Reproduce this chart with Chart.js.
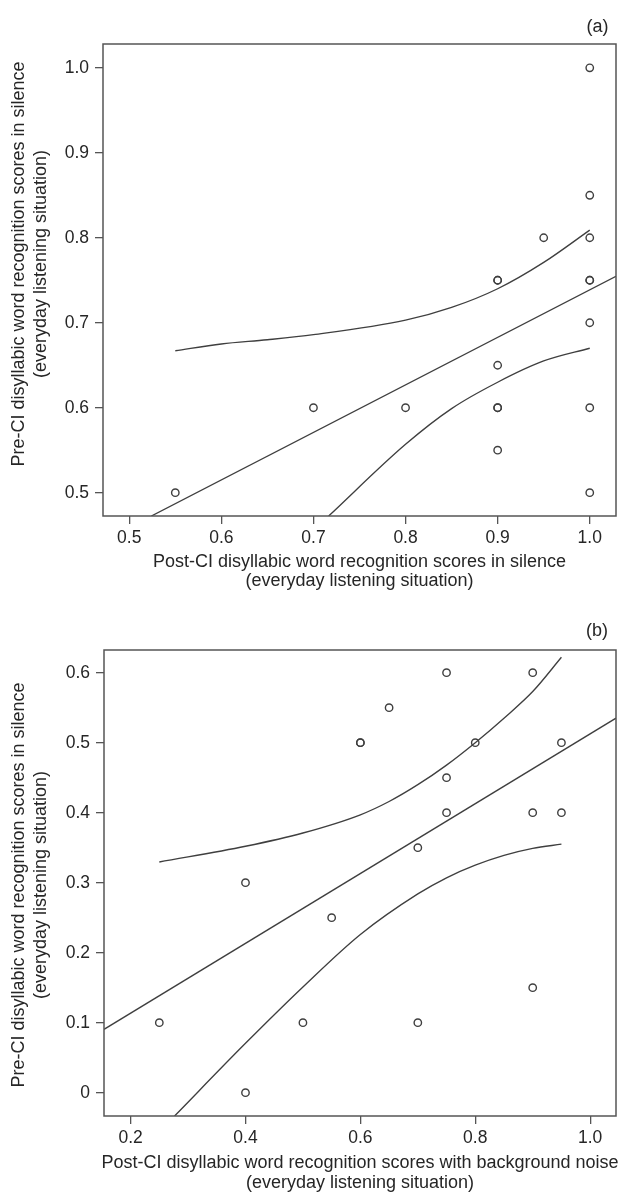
<!DOCTYPE html>
<html>
<head>
<meta charset="utf-8">
<script src="https://cdn.jsdelivr.net/npm/chart.js@4.4.1/dist/chart.umd.min.js"></script>
<style>
  html, body { margin: 0; padding: 0; background: #fff; }
  #wrap { position: relative; width: 623px; height: 1193px; }
  .panel { position: absolute; left: 0; width: 623px; }
</style>
</head>
<body>
<div id="wrap">
  <div class="panel" style="top:0;height:597px"><canvas id="chartA" width="623" height="597"></canvas></div>
  <div class="panel" style="top:597px;height:596px"><canvas id="chartB" width="623" height="596"></canvas></div>
</div>
<script>
// panel (a): post-CI in silence vs pre-CI in silence
const aPointsX = [0.55, 0.7, 0.8, 0.9, 0.9, 0.9, 0.9, 0.9, 0.9, 0.95, 1.0, 1.0, 1.0, 1.0, 1.0, 1.0, 1.0, 1.0];
const aPointsY = [0.5, 0.6, 0.6, 0.75, 0.75, 0.65, 0.6, 0.6, 0.55, 0.8, 1.0, 0.85, 0.8, 0.75, 0.75, 0.7, 0.6, 0.5];
const aFitX = [0.524, 1.0285];
const aFitY = [0.4726, 0.7546];
const aUpperX = [0.55, 0.6, 0.65, 0.7, 0.8, 0.85, 0.9, 0.95, 1.0];
const aUpperY = [0.667, 0.675, 0.68, 0.686, 0.703, 0.718, 0.74, 0.771, 0.809];
const aLowerX = [0.7165, 0.8, 0.85, 0.9, 0.95, 1.0];
const aLowerY = [0.4726, 0.557, 0.599, 0.63, 0.655, 0.67];
const aXTicks = [0.5, 0.6, 0.7, 0.8, 0.9, 1.0];
const aXLabels = ["0.5", "0.6", "0.7", "0.8", "0.9", "1.0"];
const aYTicks = [0.5, 0.6, 0.7, 0.8, 0.9, 1.0];
const aYLabels = ["0.5", "0.6", "0.7", "0.8", "0.9", "1.0"];

// panel (b): post-CI with background noise vs pre-CI in silence
const bPointsX = [0.25, 0.4, 0.4, 0.5, 0.55, 0.6, 0.6, 0.65, 0.7, 0.7, 0.75, 0.75, 0.75, 0.8, 0.9, 0.9, 0.9, 0.95, 0.95];
const bPointsY = [0.1, 0.3, 0.0, 0.1, 0.25, 0.5, 0.5, 0.55, 0.35, 0.1, 0.6, 0.45, 0.4, 0.5, 0.6, 0.4, 0.15, 0.5, 0.4];
const bFitX = [0.1537, 1.045];
const bFitY = [0.0905, 0.535];
const bUpperX = [0.25, 0.4, 0.5, 0.6, 0.65, 0.7, 0.75, 0.8, 0.85, 0.9, 0.95];
const bUpperY = [0.3295, 0.352, 0.371, 0.397, 0.416, 0.44, 0.468, 0.5, 0.535, 0.573, 0.622];
const bLowerX = [0.2765, 0.4, 0.5, 0.6, 0.7, 0.75, 0.8, 0.85, 0.9, 0.95];
const bLowerY = [-0.0333, 0.0705, 0.151, 0.226, 0.284, 0.307, 0.325, 0.339, 0.349, 0.355];
const bXTicks = [0.2, 0.4, 0.6, 0.8, 1.0];
const bXLabels = ["0.2", "0.4", "0.6", "0.8", "1.0"];
const bYTicks = [0, 0.1, 0.2, 0.3, 0.4, 0.5, 0.6];
const bYLabels = ["0", "0.1", "0.2", "0.3", "0.4", "0.5", "0.6"];

const INK = "#262626";
const LINE = "#3f3f3f";
const FONT = "'Liberation Sans', Arial, sans-serif";

function pairs(xs, ys) {
  return xs.map((x, i) => ({ x: x, y: ys[i] }));
}

function curve(xs, ys, smooth) {
  return {
    type: "line",
    data: pairs(xs, ys),
    borderColor: LINE,
    borderWidth: 1.35,
    pointRadius: 0,
    fill: false,
    cubicInterpolationMode: smooth ? "monotone" : "default",
    tension: 0,
  };
}

// frame box, panel letter and axis titles
const panelDecor = {
  id: "panelDecor",
  afterDraw(chart, args, opts) {
    const { ctx, chartArea: a } = chart;
    ctx.save();
    ctx.strokeStyle = "#555";
    ctx.lineWidth = 1.5;
    ctx.strokeRect(a.left, a.top, a.right - a.left, a.bottom - a.top);

    ctx.fillStyle = INK;
    ctx.font = "18px " + FONT;
    ctx.textAlign = "center";
    ctx.textBaseline = "alphabetic";
    ctx.fillText(opts.letter, opts.letterX, opts.letterY);

    const cx = (a.left + a.right) / 2;
    opts.xTitle.forEach((t, i) => ctx.fillText(t, cx, opts.xTitleY[i]));

    opts.yTitle.forEach((t, i) => {
      ctx.save();
      ctx.translate(opts.yTitleX[i], opts.yTitleCenter);
      ctx.rotate(-Math.PI / 2);
      ctx.fillText(t, 0, 0);
      ctx.restore();
    });
    ctx.restore();
  },
};

function makeChart(id, cfg) {
  const tickFont = { family: FONT, size: 17.5 };
  new Chart(document.getElementById(id), {
    type: "scatter",
    data: {
      datasets: [
        {
          data: pairs(cfg.px, cfg.py),
          pointStyle: "circle",
          pointRadius: 3.7,
          pointBorderWidth: 1.4,
          pointBorderColor: LINE,
          pointBackgroundColor: "rgba(255,255,255,0)",
          showLine: false,
        },
        curve(cfg.fitX, cfg.fitY, false),
        curve(cfg.upX, cfg.upY, true),
        curve(cfg.loX, cfg.loY, true),
      ],
    },
    options: {
      responsive: false,
      animation: false,
      layout: { padding: { left: 0, top: cfg.top, right: 7, bottom: 0 } },
      plugins: {
        legend: { display: false },
        tooltip: { enabled: false },
        panelDecor: cfg.decor,
      },
      scales: {
        x: {
          type: "linear",
          min: cfg.xMin,
          max: cfg.xMax,
          afterBuildTicks: (s) => { s.ticks = cfg.xTicks.map((v) => ({ value: v })); },
          afterFit: (s) => { s.height = cfg.xHeight; },
          grid: { drawOnChartArea: false, drawTicks: true, tickLength: 8, color: "#555", lineWidth: 1.3 },
          border: { display: false },
          ticks: {
            color: INK,
            font: tickFont,
            padding: 4,
            maxRotation: 0,
            autoSkip: false,
            callback: (v, i) => cfg.xLabels[i],
          },
        },
        y: {
          type: "linear",
          min: cfg.yMin,
          max: cfg.yMax,
          afterBuildTicks: (s) => { s.ticks = cfg.yTicks.map((v) => ({ value: v })); },
          afterFit: (s) => { s.width = cfg.yWidth; },
          grid: { drawOnChartArea: false, drawTicks: true, tickLength: 8, color: "#555", lineWidth: 1.3 },
          border: { display: false },
          ticks: {
            color: INK,
            font: tickFont,
            padding: 6,
            autoSkip: false,
            callback: (v, i) => cfg.yLabels[i],
          },
        },
      },
    },
    plugins: [panelDecor],
  });
}

const yTitleLines = ["Pre-CI disyllabic word recognition scores in silence", "(everyday listening situation)"];

makeChart("chartA", {
  px: aPointsX, py: aPointsY,
  fitX: aFitX, fitY: aFitY,
  upX: aUpperX, upY: aUpperY,
  loX: aLowerX, loY: aLowerY,
  xTicks: aXTicks, xLabels: aXLabels,
  yTicks: aYTicks, yLabels: aYLabels,
  xMin: 0.4715, xMax: 1.0285,
  yMin: 0.4726, yMax: 1.028,
  top: 44, yWidth: 103, xHeight: 81,
  decor: {
    letter: "(a)", letterX: 597.5, letterY: 32,
    xTitle: ["Post-CI disyllabic word recognition scores in silence", "(everyday listening situation)"],
    xTitleY: [567, 586],
    yTitle: yTitleLines,
    yTitleX: [24, 46],
    yTitleCenter: 264,
  },
});

makeChart("chartB", {
  px: bPointsX, py: bPointsY,
  fitX: bFitX, fitY: bFitY,
  upX: bUpperX, upY: bUpperY,
  loX: bLowerX, loY: bLowerY,
  xTicks: bXTicks, xLabels: bXLabels,
  yTicks: bYTicks, yLabels: bYLabels,
  xMin: 0.1537, xMax: 1.045,
  yMin: -0.0333, yMax: 0.6324,
  top: 53, yWidth: 104, xHeight: 77,
  decor: {
    letter: "(b)", letterX: 597, letterY: 39,
    xTitle: ["Post-CI disyllabic word recognition scores with background noise", "(everyday listening situation)"],
    xTitleY: [571, 591],
    yTitle: yTitleLines,
    yTitleX: [24, 46],
    yTitleCenter: 288,
  },
});
</script>
</body>
</html>
